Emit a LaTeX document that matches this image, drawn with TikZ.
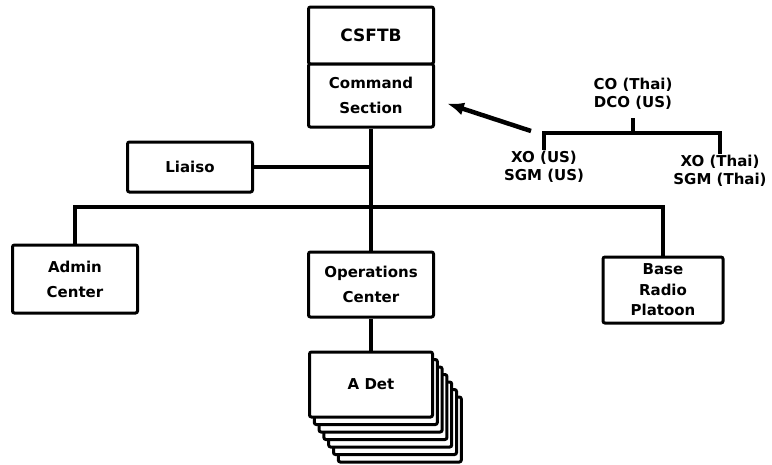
\documentclass[tikz,border=0pt]{standalone}
\usepackage{fontspec}
\setmainfont{DejaVu Sans}
\usetikzlibrary{arrows.meta, positioning, calc}

\begin{document}
\begin{tikzpicture}[x=1pt, y=-1pt,
    box/.style={draw, line width=3pt, rounded corners=2pt, fill=white,
        align=center, inner sep=0pt, font=\fontsize{15}{25}\selectfont\bfseries},
    sheet/.style={draw, line width=3pt, rounded corners=2pt, fill=white},
    lbl/.style={align=center, inner sep=1pt, font=\fontsize{15}{18}\selectfont\bfseries},
    link/.style={line width=4pt},
    brace/.style={line width=3.5pt},
    pointer/.style={line width=4.5pt, -{Latex[length=17pt,width=13pt]}}]
    \useasboundingbox (0,0) rectangle (772,464);

    % Headquarters
    \node[box, minimum width=125pt, minimum height=57pt,
        font=\fontsize{17}{25}\selectfont\bfseries] (csftb) at (371,35.5) {CSFTB};
    \node[box, minimum width=125pt, minimum height=63pt] (cmd) at (371,95.5) {Command\\Section};
    \node[box, minimum width=125pt, minimum height=50pt] (liaiso) at (190,167) {Liaiso};

    % Subordinate elements
    \node[box, minimum width=125pt, minimum height=68pt] (admin) at (75,279) {Admin\\Center};
    \node[box, minimum width=125pt, minimum height=65pt] (ops) at (371,284.5) {Operations\\Center};
    \node[box, minimum width=120pt, minimum height=66pt,
        font=\fontsize{15}{20.5}\selectfont\bfseries] (base) at (663,290) {Base\\Radio\\Platoon};

    % Stack of detachments
    \foreach \k in {6,5,...,1}
        \draw[sheet] (309.5+4.8*\k,352+7.5*\k) rectangle ++(123,65);
    \node[box, minimum width=123pt, minimum height=65pt] (adet) at (371,384.5) {A Det};

    % Command group
    \node[lbl] (co) at (633,93.5) {CO (Thai)\\DCO (US)};
    \node[lbl] (xous) at (544,167) {XO (US)\\SGM (US)};
    \node[lbl] (xothai) at (720,171) {XO (Thai)\\SGM (Thai)};
    \coordinate (br) at (633,133);
    \coordinate (arrtail) at (531,131);

    % Connectors
    \coordinate (bus) at (371,207);
    \draw[link] (cmd.south) -- (ops.north);
    \draw[link] (liaiso.east) -- (liaiso.east -| bus);
    \draw[link] (admin.north) |- (bus) -| (base.north);
    \draw[link] (ops.south) -- (adet.north);

    \draw[brace] (xous.north) |- (br) -| (xothai.north);
    \draw[brace, shorten <=8pt] (co.south) -- (br);
    \draw[pointer] (arrtail) -- ($(cmd.east)+(12,8)$);
\end{tikzpicture}
\end{document}
